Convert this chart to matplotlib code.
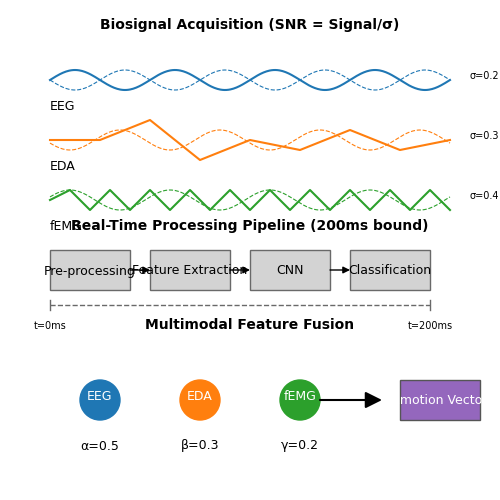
import numpy as np
import matplotlib
matplotlib.use("Agg")
import matplotlib.pyplot as plt
from matplotlib.patches import Rectangle, Circle

signals = ["EEG", "EDA", "fEMG"]
sigmas = ["σ=0.2", "σ=0.3", "σ=0.4"]
colors = ["#1f77b4", "#ff7f0e", "#2ca02c"]
eda_x = [50, 100, 150, 200, 250, 300, 350, 400, 450]
eda_y = [0, 0, 20, -20, 0, -10, 10, -10, 0]
emg_x = [50] + list(range(70, 451, 20))
emg_y = [0] + [10 if i % 2 == 0 else -10 for i in range(len(emg_x) - 1)]
stages = ["Pre-processing", "Feature Extraction", "CNN", "Classification"]
weights = ["α=0.5", "β=0.3", "γ=0.2"]

fig = plt.figure(figsize=(5, 5), dpi=100)
ax = fig.add_axes([0, 0, 1, 1])
ax.set_xlim(0, 500); ax.set_ylim(500, 0); ax.axis("off")

ax.text(250, 25, "Biosignal Acquisition (SNR = Signal/σ)", ha="center", va="center", fontsize=10, fontweight="bold")
centers = [80, 140, 200]
x = np.linspace(50, 450, 400)
ax.plot(x, 80 - 10*np.sin(2*np.pi*(x-50)/100), color=colors[0], lw=1.5)
ax.plot(x, 80 + 10*np.sin(2*np.pi*(x-50)/100), color=colors[0], lw=0.8, ls="--")
ax.plot(eda_x, [140 - v for v in eda_y], color=colors[1], lw=1.5)
ax.plot(x, 140 + 10*np.cos(2*np.pi*(x-70)/100), color=colors[1], lw=0.8, ls="--")
ax.plot(emg_x, [200 - v for v in emg_y], color=colors[2], lw=1.5)
ax.plot(x, 200 - 10*np.cos(2*np.pi*(x-70)/100), color=colors[2], lw=0.8, ls="--")
for c, name, s in zip(centers, signals, sigmas):
    ax.text(50, c + 26, name, ha="left", va="center", fontsize=9)
    ax.text(470, c - 4, s, ha="left", va="center", fontsize=7)

ax.text(250, 226, "Real-Time Processing Pipeline (200ms bound)", ha="center", va="center", fontsize=10, fontweight="bold")
for i, st in enumerate(stages):
    x0 = 50 + 100*i
    ax.add_patch(Rectangle((x0, 250), 80, 40, facecolor="lightgray", edgecolor="dimgray", lw=1))
    ax.text(x0 + 40, 271, st, ha="center", va="center", fontsize=9)
    if i < 3:
        ax.annotate("", xy=(x0 + 100, 270), xytext=(x0 + 80, 270),
                    arrowprops=dict(arrowstyle="-|>", color="dimgray", lw=1, mutation_scale=10,
                                    shrinkA=0, shrinkB=0, fc="black", ec="black"))
ax.plot([50, 430], [305, 305], ls="--", color="dimgray", lw=1)
ax.plot([50, 50], [300, 310], color="dimgray", lw=1)
ax.plot([430, 430], [300, 310], color="dimgray", lw=1)
ax.text(50, 326, "t=0ms", ha="center", va="center", fontsize=7)
ax.text(430, 326, "t=200ms", ha="center", va="center", fontsize=7)

ax.text(250, 325, "Multimodal Feature Fusion", ha="center", va="center", fontsize=10, fontweight="bold")
for i, (name, w) in enumerate(zip(signals, weights)):
    cx = 100 + 100*i
    ax.add_patch(Circle((cx, 400), 20, color=colors[i]))
    ax.text(cx, 396, name, ha="center", va="center", fontsize=9, color="white")
    ax.text(cx, 446, w, ha="center", va="center", fontsize=9)
ax.annotate("", xy=(382, 400), xytext=(320, 400),
            arrowprops=dict(arrowstyle="-|>", color="black", lw=1.5, mutation_scale=25, shrinkA=0, shrinkB=0))
box = Rectangle((400, 380), 80, 40, facecolor="#9467bd", edgecolor="#555555", lw=1)
ax.add_patch(box)
t = ax.text(440, 401, "Emotion Vector", ha="center", va="center", fontsize=9, color="white")
t.set_clip_path(box)

fig.savefig("out.png", dpi=100)
